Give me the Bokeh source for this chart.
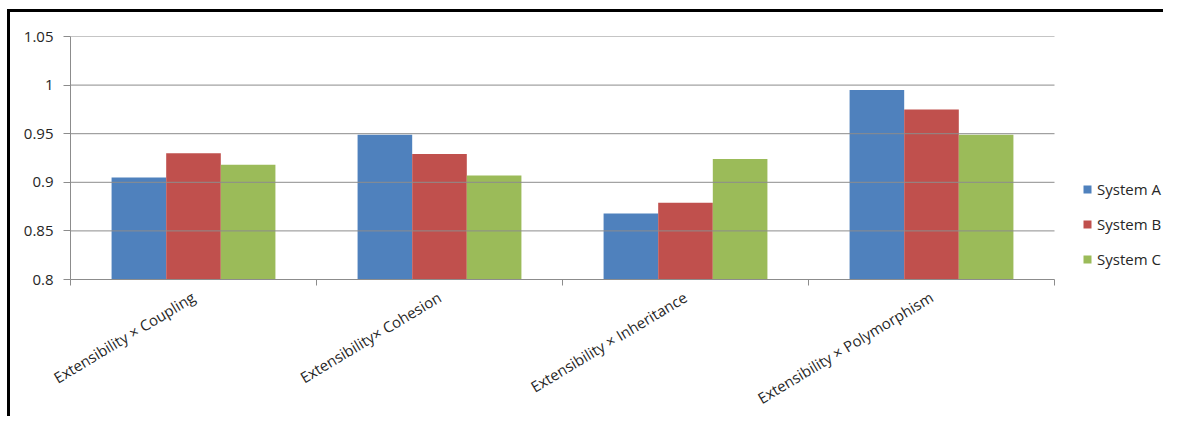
import math
from bokeh.plotting import figure
from bokeh.models import ColumnDataSource, Range1d, FixedTicker, NumeralTickFormatter
from bokeh.embed import file_html
from bokeh.resources import INLINE

categories = ["Extensibility × Coupling", "Extensibility× Cohesion",
              "Extensibility × Inheritance", "Extensibility × Polymorphism"]
series_names = ["System A", "System B", "System C"]
system_a = [0.905, 0.949, 0.868, 0.995]
system_b = [0.930, 0.929, 0.879, 0.975]
system_c = [0.918, 0.907, 0.924, 0.949]
y_ticks = [0.8, 0.85, 0.9, 0.95, 1.0, 1.05]
colors = ["#4F81BD", "#C0504D", "#9BBB59"]

FONT = "Open Sans"
GRID = "#8c8c8c"
TEXT = "#262626"

# total page budget (no scrollbars): 1166 x 419
PAGE_W, PAGE_H = 1166, 419
# canvas starts at (OX, OY) on the page (CSS margin; black sheet edge drawn as a shadow)
OX, OY = 10, 12
FRAME_L, FRAME_T, FRAME_B = 70, 36, 279   # frame box on the page
CAT_R = 1054                              # right end of category area
n = len(categories)
W, H = PAGE_W - OX, PAGE_H - OY
frame_w = W - (FRAME_L - OX)
x_end = n * frame_w / (CAT_R - FRAME_L)

p = figure(width=W, height=H, output_backend="svg", toolbar_location=None,
           x_range=Range1d(0, x_end), y_range=Range1d(y_ticks[0], y_ticks[-1]),
           min_border_left=FRAME_L - OX, min_border_right=0,
           min_border_top=FRAME_T - OY, min_border_bottom=PAGE_H - FRAME_B)
p.styles = {"margin-left": f"{OX}px", "margin-top": f"{OY}px",
            "box-shadow": "-3px -3px 0 0 #000000"}
p.outline_line_color = None
p.background_fill_color = "white"
p.border_fill_color = "white"

bar_w = 0.222
offsets = [-bar_w, 0.0, bar_w]
for name, vals, color, off in zip(series_names, [system_a, system_b, system_c], colors, offsets):
    src = ColumnDataSource(dict(x=[i + 0.5 + off for i in range(n)], top=vals))
    p.vbar(x="x", top="top", bottom=y_ticks[0], width=bar_w, source=src,
           fill_color=color, line_color=None, legend_label=name)

# grid: horizontal lines only across the category area
p.xgrid.visible = False
p.ygrid.visible = False
p.segment(x0=[0] * len(y_ticks[1:]), x1=[n] * len(y_ticks[1:]),
          y0=y_ticks[1:], y1=y_ticks[1:], line_color=GRID, line_width=1)

# y axis
p.yaxis.ticker = FixedTicker(ticks=y_ticks)
p.yaxis.formatter = NumeralTickFormatter(format="0.[00]")
p.yaxis.major_tick_out = 7
p.yaxis.major_tick_in = 0
p.yaxis.minor_tick_line_color = None
p.yaxis.axis_line_color = GRID
p.yaxis.major_tick_line_color = GRID
p.yaxis.major_label_text_font = FONT
p.yaxis.major_label_text_font_size = "15px"
p.yaxis.major_label_text_color = TEXT
p.yaxis.major_label_standoff = 10

# x axis
p.xaxis.bounds = (0, n)
p.xaxis.ticker = FixedTicker(ticks=[i + 0.5 for i in range(n)],
                             minor_ticks=[float(i) for i in range(n + 1)])
p.xaxis.major_label_overrides = {i + 0.5: c for i, c in enumerate(categories)}
p.xaxis.major_tick_out = 0
p.xaxis.major_tick_in = 0
p.xaxis.minor_tick_out = 6
p.xaxis.minor_tick_in = 0
p.xaxis.minor_tick_line_color = GRID
p.xaxis.axis_line_color = GRID
p.xaxis.major_label_orientation = math.radians(31)
p.xaxis.major_label_text_font = FONT
p.xaxis.major_label_text_font_size = "15px"
p.xaxis.major_label_text_color = TEXT
p.xaxis.major_label_standoff = 10

# legend (inside the extended frame, to the right of the bars)
leg = p.legend[0]
leg.location = (1082 - FRAME_L, 10)
leg.border_line_color = None
leg.background_fill_alpha = 0
leg.padding = 0
leg.margin = 0
leg.glyph_width = 10
leg.glyph_height = 10
leg.label_standoff = 5
leg.label_height = 20
leg.spacing = 15
leg.label_text_font = FONT
leg.label_text_font_size = "15px"
leg.label_text_color = TEXT

open("out.html", "w").write(file_html(p, INLINE))
